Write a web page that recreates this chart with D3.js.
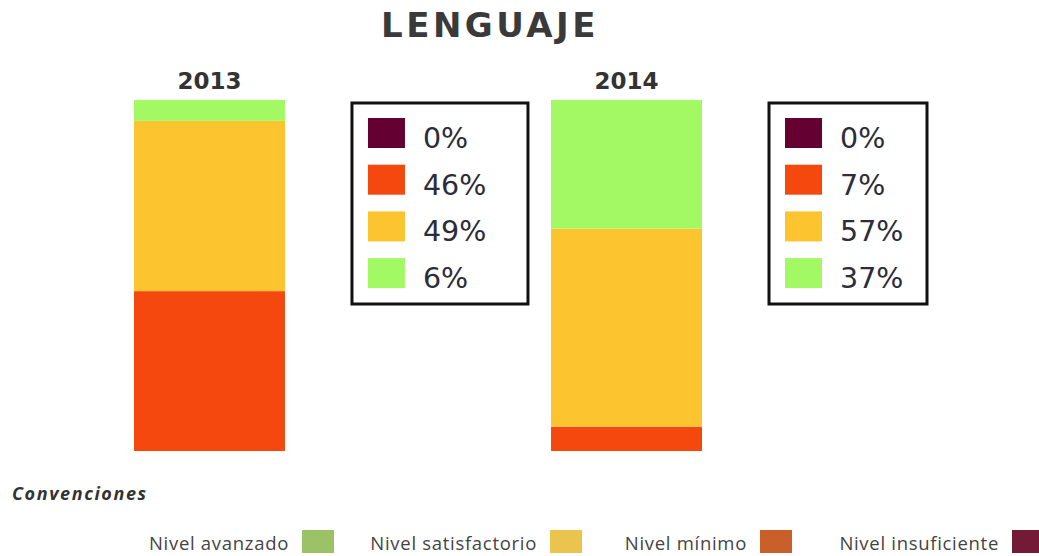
<!DOCTYPE html>
<html>
<head>
<meta charset="utf-8">
<script src="https://cdn.jsdelivr.net/npm/d3@7"></script>
<style>
  body { margin: 0; background: #fff; }
  svg { display: block; }
</style>
</head>
<body>
<div id="chart"></div>
<script>
// data (bottom to top in each bar)
var years = ["2013", "2014"];
var levels = ["insuficiente", "minimo", "satisfactorio", "avanzado"];
var values2013 = [0, 46, 49, 6];
var values2014 = [0, 7, 57, 37];
var legendNames = ["Nivel avanzado", "Nivel satisfactorio", "Nivel mínimo", "Nivel insuficiente"];

var barColors = { insuficiente: "#650032", minimo: "#f5480f", satisfactorio: "#fcc42f", avanzado: "#a3f963" };
var keyColors = ["#9bc266", "#ebc44e", "#c9602a", "#731a36"];

var width = 1039, height = 556;
var svg = d3.select("#chart").append("svg").attr("width", width).attr("height", height);

var byYear = { "2013": values2013, "2014": values2014 };

var x = d3.scaleBand().domain(years).range([134, 702]).paddingInner(0.638).paddingOuter(0);

// title
svg.append("text")
  .attr("x", 490).attr("y", 37)
  .attr("text-anchor", "middle")
  .style("font-family", "DejaVu Sans").style("font-weight", "bold")
  .style("font-size", "34px").style("letter-spacing", "3.5px")
  .style("fill", "#3a3a3a")
  .text("LENGUAJE");

var boxW = { "2013": 176, "2014": 158 };

years.forEach(function(yr) {
  var vals = byYear[yr];
  var total = d3.sum(vals);
  var y = d3.scaleLinear().domain([0, total]).range([451, 100]);
  var row = {};
  levels.forEach(function(l, i) { row[l] = vals[i]; });
  var stacked = d3.stack().keys(levels)([row]);

  svg.append("text")
    .attr("x", x(yr) + x.bandwidth() / 2).attr("y", 89)
    .attr("text-anchor", "middle")
    .style("font-family", "DejaVu Sans").style("font-weight", "bold")
    .style("font-size", "23px").style("fill", "#333")
    .text(yr);

  svg.append("g").selectAll("rect")
    .data(stacked)
    .join("rect")
    .attr("x", x(yr))
    .attr("width", x.bandwidth())
    .attr("y", function(d) { return y(d[0][1]); })
    .attr("height", function(d) { return y(d[0][0]) - y(d[0][1]); })
    .attr("fill", function(d) { return barColors[d.key]; });

  // value box
  var bx = x(yr) + x.bandwidth() + 67;
  var g = svg.append("g").attr("transform", "translate(" + bx + ",103)");
  g.append("rect")
    .attr("width", boxW[yr]).attr("height", 201)
    .attr("fill", "#fff").attr("stroke", "#111").attr("stroke-width", 3);
  levels.forEach(function(l, i) {
    var ry = 15 + i * 46.7;
    g.append("rect").attr("x", 16).attr("y", ry).attr("width", 37).attr("height", 30)
      .attr("fill", barColors[l]);
    g.append("text").attr("x", 71).attr("y", ry + 30)
      .style("font-family", "DejaVu Sans").style("font-size", "28.5px")
      .style("fill", "#2c2c3a")
      .text(vals[i] + "%");
  });
});

// conventions
svg.append("text")
  .attr("x", 12).attr("y", 500)
  .style("font-family", "Open Sans").style("font-style", "italic").style("font-weight", "bold")
  .style("font-size", "18px").style("letter-spacing", "1.6px").style("fill", "#333")
  .text("Convenciones");

var keyX = [302, 550, 760, 1012];
legendNames.forEach(function(n, i) {
  svg.append("rect").attr("x", keyX[i]).attr("y", 530).attr("width", 32).attr("height", 23)
    .attr("fill", keyColors[i]);
  svg.append("text")
    .attr("x", keyX[i] - 13).attr("y", 550)
    .attr("text-anchor", "end")
    .style("font-family", "Open Sans").style("font-size", "18.5px")
    .style("letter-spacing", "0.7px")
    .style("fill", "#444")
    .text(n);
});
</script>
</body>
</html>
